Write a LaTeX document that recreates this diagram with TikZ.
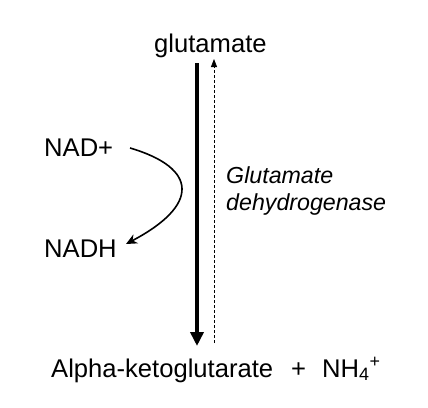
\documentclass[tikz,border=0pt]{standalone}
\usepackage{fontspec}
\setmainfont{Liberation Sans}
\usetikzlibrary{arrows.meta}
\tikzset{
  lbl/.style={anchor=base west, inner sep=0pt, font=\fontsize{25.6}{30}\selectfont},
  enz/.style={anchor=base west, inner sep=0pt, font=\fontsize{23.2}{27}\selectfont\itshape},
  mainarrow/.style={line width=4pt, -{Triangle[width=13pt,length=14pt]}},
  revarrow/.style={line width=0.8pt, dash pattern=on 3pt off 2pt, -{Triangle[width=6pt,length=8pt]}},
  cofarrow/.style={line width=1.6pt, -{Stealth[width=10pt,length=11pt]}}
}
\begin{document}
\begin{tikzpicture}[x=1pt,y=-1pt]
\useasboundingbox (0,0) rectangle (428,407);
\node[lbl] (glu) at (154,52) {glutamate};
\node[lbl] (nad) at (44,156) {NAD+};
\node[lbl] (nadh) at (44,257) {NADH};
\node[enz] (enz1) at (226,183) {Glutamate};
\node[enz] (enz2) at (226,210) {dehydrogenase};
\node[lbl] (akg) at (51,377) {Alpha-ketoglutarate};
\node[lbl] (plus) at (291,377) {+};
\node[lbl] (nh4) at (322,377) {NH\textsubscript{4}\textsuperscript{+}};
\coordinate (mtop) at (197,63);
\coordinate (mbot) at (197,346);
\coordinate (dbot) at (214,343);
\coordinate (dtop) at (214,59);
\coordinate (cs) at (130,148);
\coordinate (ce) at (126,244);
\draw[mainarrow] (mtop) -- (mbot);
\draw[revarrow] (dbot) -- (dtop);
\draw[cofarrow] (cs) .. controls (198,168) and (200,205) .. (ce);
\end{tikzpicture}
\end{document}
